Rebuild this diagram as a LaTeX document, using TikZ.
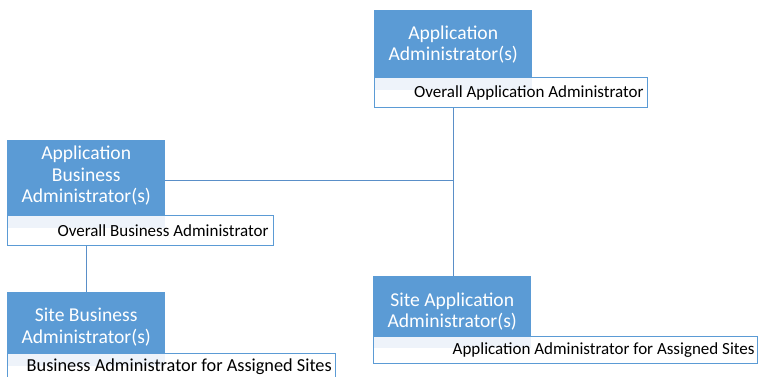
\documentclass[tikz,border=0pt]{standalone}
\usepackage{fontspec}
\setmainfont{Carlito}
\definecolor{obl}{HTML}{5B9BD5}
\definecolor{lnc}{HTML}{5A8FC8}
\definecolor{tint}{HTML}{EEF3FA}
\tikzset{
  role/.style={fill=obl, draw=none, text=white, font=\fontsize{19.6}{21.5}\selectfont,
    align=center, inner sep=0pt, minimum width=158, minimum height=#1, anchor=north west},
  rolelabel/.style={text=white, font=\fontsize{19.6}{21.5}\selectfont, align=center, inner sep=0pt},
  duty/.style={fill=white, draw=obl, line width=0.8pt, inner sep=0pt,
    minimum width=#1, minimum height=30, anchor=north west},
  dutytext/.style={font=\fontsize{17}{19}\selectfont, text=black, anchor=east, inner sep=0pt},
  conn/.style={draw=lnc, line width=1.1pt},
  tintfill/.style={fill=tint}
}
\begin{document}
\begin{tikzpicture}[x=1pt,y=-1pt]
\useasboundingbox[fill=white] (0,0) rectangle (758,377);

% top: Application Administrator(s)
\node[role=67] (aa) at (374,10) {};
\node[rolelabel] (aal) at ([yshift=-1]aa.center) {Application\\Administrator(s)};
\node[duty=273] (aad) at (374,77) {};
\fill[tintfill] ([shift={(0.6,0.6)}]aad.north west) rectangle ++(157,12);
\node[dutytext] (aat) at ([shift={(-4,1)}]aad.east) {Overall Application Administrator};

% left: Application Business Administrator(s)
\node[role=75] (ab) at (7,140) {};
\node[rolelabel] (abl) at ([yshift=2]ab.center) {Application\\Business\\Administrator(s)};
\node[duty=266] (abd) at (7,215) {};
\fill[tintfill] ([shift={(0.6,0.6)}]abd.north west) rectangle ++(157,12);
\node[dutytext] (abt) at ([shift={(-5,0)}]abd.east) {Overall Business Administrator};

% bottom left: Site Business Administrator(s)
\node[role=61] (sb) at (7,292) {};
\node[rolelabel] (sbl) at ([yshift=-4.5]sb.center) {Site Business\\Administrator(s)};
\node[duty=328, minimum height=34] (sbd) at (7,353) {};
\fill[tintfill] ([shift={(0.6,0.6)}]sbd.north west) rectangle ++(157,12);
\node[dutytext, font=\fontsize{18.3}{20}\selectfont] (sbt) at (332,367) {Business Administrator for Assigned Sites};

% bottom right: Site Application Administrator(s)
\node[role=60] (sa) at (373,276) {};
\node[rolelabel] (sal) at ([yshift=-5.5]sa.center) {Site Application\\Administrator(s)};
\node[duty=384, minimum height=27] (sad) at (373,336) {};
\fill[tintfill] ([shift={(0.6,0.6)}]sad.north west) rectangle ++(157,11);
\node[dutytext] (sat) at ([shift={(-3,0)}]sad.east) {Application Administrator for Assigned Sites};

% connectors
\draw[conn] (aad.south -| aa.south) -- (sa.north -| aa.south);
\draw[conn] ([yshift=-3]ab.east) -- ([yshift=-3]ab.east -| aa.south);
\draw[conn] (abd.south -| ab.south) -- (sb.north -| ab.south);
\end{tikzpicture}
\end{document}
